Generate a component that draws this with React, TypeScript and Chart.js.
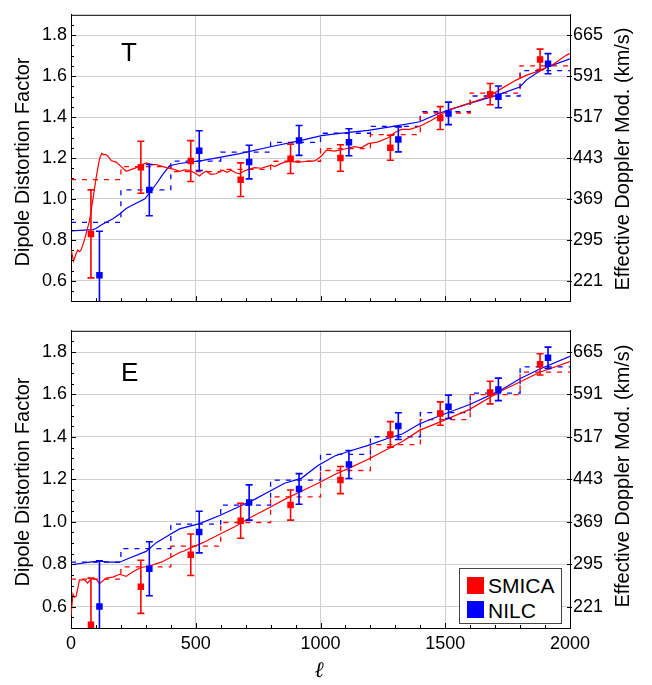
import React, { useEffect, useRef } from 'react';
import { Chart, registerables } from 'chart.js';

Chart.register(...registerables);

const FONT = "'Liberation Sans', Arial, Helvetica, sans-serif";
const RED = '#ff0000';
const BLUE = '#0000ff';

// ---------- axes ----------
const xTicks = [0, 500, 1000, 1500, 2000];
const xTickLabels = ['0', '500', '1000', '1500', '2000'];
const yTicks = [0.6, 0.8, 1.0, 1.2, 1.4, 1.6, 1.8];
const leftTickLabels = ['0.6', '0.8', '1.0', '1.2', '1.4', '1.6', '1.8'];
const rightTickLabels = ['221', '295', '369', '443', '517', '591', '665'];
const binEdges = [0, 200, 400, 600, 800, 1000, 1200, 1400, 1600, 1800, 2000];

// ---------- bin points (ℓ positions) ----------
const smicaEll = [80, 280, 480, 680, 880, 1080, 1280, 1480, 1680, 1880];
const nilcEll = [114, 314, 514, 714, 914, 1114, 1312, 1513, 1713, 1912];

// ---------- T panel ----------
const tSmicaVal = [0.829, 1.155, 1.185, 1.094, 1.196, 1.2, 1.25, 1.395, 1.512, 1.682];
const tSmicaErr = [0.215, 0.127, 0.1, 0.082, 0.072, 0.065, 0.061, 0.056, 0.052, 0.05];
const tNilcVal = [0.627, 1.043, 1.236, 1.18, 1.286, 1.277, 1.291, 1.418, 1.499, 1.661];
const tNilcErr = [0.215, 0.125, 0.097, 0.082, 0.073, 0.066, 0.061, 0.055, 0.053, 0.049];
const tSmicaBinned = [1.094, 1.158, 1.133, 1.144, 1.184, 1.246, 1.314, 1.42, 1.517, 1.65];
const tNilcBinned = [0.885, 1.044, 1.185, 1.229, 1.276, 1.321, 1.355, 1.426, 1.503, 1.627];
const tSmicaCurve: [number, number][] = [
  [0, 0.756], [10, 0.695], [21, 0.734], [27, 0.75], [34, 0.742], [40, 0.749], [54, 0.8], [74, 0.893],
  [88, 0.999], [101, 1.105], [114, 1.195], [124, 1.223], [131, 1.215], [138, 1.218], [147, 1.21],
  [161, 1.188], [181, 1.18], [201, 1.158], [221, 1.135], [241, 1.143], [261, 1.153], [280, 1.165],
  [302, 1.176], [322, 1.168], [342, 1.168], [362, 1.16], [382, 1.153], [409, 1.146], [435, 1.135],
  [455, 1.142], [475, 1.14], [495, 1.128], [515, 1.112], [530, 1.128], [542, 1.135], [560, 1.12],
  [582, 1.123], [596, 1.133], [609, 1.14], [625, 1.13], [642, 1.14], [660, 1.128], [676, 1.123],
  [692, 1.135], [709, 1.143], [736, 1.153], [763, 1.15], [790, 1.16], [803, 1.165], [816, 1.158],
  [836, 1.17], [856, 1.18], [883, 1.183], [910, 1.179], [937, 1.183], [977, 1.186], [1004, 1.21],
  [1024, 1.238], [1057, 1.234], [1097, 1.244], [1137, 1.256], [1164, 1.25], [1191, 1.27], [1231, 1.279],
  [1271, 1.299], [1298, 1.325], [1324, 1.34], [1358, 1.34], [1398, 1.355], [1438, 1.38], [1478, 1.408],
  [1518, 1.438], [1558, 1.453], [1598, 1.468], [1652, 1.491], [1692, 1.514], [1732, 1.544],
  [1786, 1.582], [1826, 1.605], [1879, 1.627], [1933, 1.658], [1986, 1.703], [2000, 1.711],
];
const tNilcCurve: [number, number][] = [
  [0, 0.844], [88, 0.85], [100, 0.855], [128, 0.877], [168, 0.903], [195, 0.926], [221, 0.953],
  [261, 0.979], [295, 0.999], [315, 1.029], [342, 1.074], [368, 1.12], [395, 1.162], [435, 1.173],
  [529, 1.188], [596, 1.203], [676, 1.221], [800, 1.255], [923, 1.286], [1004, 1.309], [1077, 1.32],
  [1191, 1.335], [1304, 1.357], [1398, 1.377], [1478, 1.42], [1598, 1.467], [1705, 1.506],
  [1799, 1.547], [1826, 1.582], [1879, 1.625], [1906, 1.643], [2000, 1.685],
];

// ---------- E panel ----------
const eSmicaVal = [0.515, 0.694, 0.845, 1.005, 1.079, 1.197, 1.412, 1.51, 1.609, 1.742];
const eSmicaErr = [0.22, 0.125, 0.098, 0.082, 0.071, 0.064, 0.06, 0.055, 0.053, 0.05];
const eNilcVal = [0.601, 0.779, 0.952, 1.091, 1.155, 1.27, 1.451, 1.542, 1.624, 1.773];
const eNilcErr = [0.215, 0.127, 0.098, 0.083, 0.072, 0.066, 0.063, 0.055, 0.053, 0.05];
const eSmicaBinned = [0.73, 0.788, 0.886, 0.997, 1.118, 1.242, 1.364, 1.482, 1.599, 1.705];
const eNilcBinned = [0.81, 0.874, 0.989, 1.079, 1.197, 1.318, 1.401, 1.515, 1.606, 1.73];
const eSmicaCurve: [number, number][] = [
  [0, 0.56], [8, 0.66], [14, 0.645], [21, 0.651], [34, 0.727], [54, 0.727], [67, 0.712], [80, 0.732],
  [101, 0.73], [114, 0.709], [141, 0.735], [168, 0.74], [195, 0.753], [221, 0.743], [248, 0.765],
  [281, 0.785], [315, 0.792], [342, 0.803], [362, 0.81], [395, 0.83], [435, 0.856], [455, 0.864],
  [489, 0.882], [529, 0.902], [596, 0.942], [656, 0.977], [723, 1.023], [796, 1.068], [856, 1.106],
  [923, 1.144], [990, 1.182], [1057, 1.223], [1124, 1.258], [1191, 1.295], [1258, 1.336],
  [1330, 1.38], [1398, 1.432], [1478, 1.47], [1598, 1.53], [1719, 1.614], [1799, 1.659],
  [1879, 1.705], [2000, 1.755],
];
const eNilcCurve: [number, number][] = [
  [0, 0.798], [74, 0.81], [114, 0.815], [150, 0.81], [195, 0.81], [235, 0.83], [301, 0.861],
  [342, 0.902], [395, 0.939], [435, 0.967], [515, 0.992], [596, 1.03], [666, 1.068], [736, 1.106],
  [796, 1.144], [856, 1.182], [923, 1.205], [990, 1.265], [1057, 1.31], [1124, 1.336], [1191, 1.36],
  [1271, 1.394], [1330, 1.415], [1398, 1.462], [1478, 1.5], [1598, 1.553], [1719, 1.618],
  [1799, 1.674], [1879, 1.72], [2000, 1.78],
];

// ---------- helpers ----------
const stepPoints = (vals: number[]) =>
  binEdges.map((e, i) => ({ x: e, y: vals[Math.min(i, vals.length - 1)] }));
const curvePoints = (c: [number, number][]) => c.map(([x, y]) => ({ x, y }));
const markerPoints = (ells: number[], vals: number[], errs: number[]) =>
  ells.map((x, i) => ({ x, y: vals[i], err: errs[i] }));

const errorBarPlugin = {
  id: 'errorBars',
  afterDatasetsDraw(chart: any) {
    const { ctx, chartArea: a } = chart;
    const xs = chart.scales.x;
    const ys = chart.scales.y;
    ctx.save();
    ctx.beginPath();
    ctx.rect(a.left, a.top, a.right - a.left, a.bottom - a.top);
    ctx.clip();
    chart.data.datasets.forEach((ds: any) => {
      if (!ds.errorBars) return;
      ctx.strokeStyle = ds.borderColor;
      ctx.lineWidth = 1.6;
      ds.data.forEach((p: any) => {
        const px = xs.getPixelForValue(p.x);
        const y1 = ys.getPixelForValue(p.y + p.err);
        const y2 = ys.getPixelForValue(p.y - p.err);
        ctx.beginPath();
        ctx.moveTo(px, y1);
        ctx.lineTo(px, y2);
        ctx.moveTo(px - 3.5, y1);
        ctx.lineTo(px + 3.5, y1);
        ctx.moveTo(px - 3.5, y2);
        ctx.lineTo(px + 3.5, y2);
        ctx.stroke();
      });
    });
    ctx.restore();
  },
};

const frameTicksPlugin = {
  id: 'frameTicks',
  afterDraw(chart: any) {
    const { ctx, chartArea: a } = chart;
    const xs = chart.scales.x;
    const ys = chart.scales.y;
    ctx.save();
    ctx.strokeStyle = '#000';
    ctx.lineWidth = 1;
    ctx.beginPath();
    ctx.moveTo(a.left, a.top + 0.5);
    ctx.lineTo(a.right, a.top + 0.5);
    for (let v = 0; v <= 2000; v += 100) {
      const px = Math.round(xs.getPixelForValue(v)) + 0.5;
      const len = v % 500 === 0 ? 5 : 3;
      ctx.moveTo(px, a.bottom);
      ctx.lineTo(px, a.bottom - len);
    }
    for (let k = 11; k <= 37; k++) {
      const v = k * 0.05;
      const py = Math.round(ys.getPixelForValue(v)) + 0.5;
      const major = k % 4 === 0;
      ctx.moveTo(a.left, py);
      ctx.lineTo(a.left + (major ? 5 : 3), py);
      if (major) {
        ctx.moveTo(a.right - 3, py);
        ctx.lineTo(a.right + 2, py);
      }
    }
    ctx.stroke();
    ctx.restore();
  },
};

interface PanelSpec {
  smicaVal: number[];
  smicaErr: number[];
  nilcVal: number[];
  nilcErr: number[];
  smicaBinned: number[];
  nilcBinned: number[];
  smicaCurve: [number, number][];
  nilcCurve: [number, number][];
}

function Panel(props: {
  spec: PanelSpec;
  top: number;
  height: number;
  padTop: number;
  xHeight: number;
  showX: boolean;
}) {
  const ref = useRef<HTMLCanvasElement | null>(null);
  const { spec, top, height, padTop, xHeight, showX } = props;
  useEffect(() => {
    if (!ref.current) return;
    const tickFont = { family: FONT, size: 18 };
    const gridColor = '#cfcfcf';
    const dash = [5, 6];
    const chart = new Chart(ref.current, {
      type: 'line',
      data: {
        datasets: [
          {
            label: 'SMICA',
            data: markerPoints(smicaEll, spec.smicaVal, spec.smicaErr),
            showLine: false,
            pointStyle: 'rect',
            pointRadius: 4.6,
            pointBackgroundColor: RED,
            pointBorderWidth: 0,
            borderColor: RED,
            backgroundColor: RED,
            clip: 0,
            errorBars: true,
          } as any,
          {
            label: 'NILC',
            data: markerPoints(nilcEll, spec.nilcVal, spec.nilcErr),
            showLine: false,
            pointStyle: 'rect',
            pointRadius: 4.6,
            pointBackgroundColor: BLUE,
            pointBorderWidth: 0,
            borderColor: BLUE,
            backgroundColor: BLUE,
            clip: 0,
            errorBars: true,
          } as any,
          {
            label: 'SMICA running',
            data: curvePoints(spec.smicaCurve),
            borderColor: RED,
            borderWidth: 1.2,
            pointRadius: 0,
            tension: 0,
            fill: false,
          },
          {
            label: 'NILC running',
            data: curvePoints(spec.nilcCurve),
            borderColor: BLUE,
            borderWidth: 1.2,
            pointRadius: 0,
            tension: 0,
            fill: false,
          },
          {
            label: 'SMICA binned',
            data: stepPoints(spec.smicaBinned),
            borderColor: RED,
            borderWidth: 1.3,
            borderDash: dash,
            stepped: true,
            pointRadius: 0,
            fill: false,
          },
          {
            label: 'NILC binned',
            data: stepPoints(spec.nilcBinned),
            borderColor: BLUE,
            borderWidth: 1.3,
            borderDash: dash,
            stepped: true,
            pointRadius: 0,
            fill: false,
          },
        ],
      },
      options: {
        responsive: false,
        animation: false,
        events: [],
        layout: { padding: { top: padTop, left: 0, right: 0, bottom: 0 } },
        plugins: { legend: { display: false }, tooltip: { enabled: false } },
        scales: {
          x: {
            type: 'linear',
            min: 0,
            max: 2000,
            afterBuildTicks: (s: any) => {
              s.ticks = xTicks.map((v) => ({ value: v }));
            },
            afterFit: (s: any) => {
              s.height = xHeight;
            },
            ticks: {
              display: showX,
              font: tickFont,
              color: '#000',
              padding: 5,
              maxRotation: 0,
              autoSkip: false,
              callback: (_v: any, i: number) => xTickLabels[i],
            },
            grid: {
              color: (c: any) =>
                c.tick && (c.tick.value === 0 || c.tick.value === 2000) ? 'rgba(0,0,0,0)' : gridColor,
              drawTicks: false,
            },
            border: { display: true, color: '#000', width: 1 },
          },
          y: {
            position: 'left',
            min: 0.5,
            max: 1.9,
            afterBuildTicks: (s: any) => {
              s.ticks = yTicks.map((v) => ({ value: v }));
            },
            afterFit: (s: any) => {
              s.width = 71;
            },
            ticks: {
              font: tickFont,
              color: '#000',
              padding: 4,
              autoSkip: false,
              callback: (_v: any, i: number) => leftTickLabels[i],
            },
            grid: { color: gridColor, drawTicks: false },
            border: { display: true, color: '#000', width: 1 },
          },
          y2: {
            position: 'right',
            min: 0.5,
            max: 1.9,
            afterBuildTicks: (s: any) => {
              s.ticks = yTicks.map((v) => ({ value: v }));
            },
            afterFit: (s: any) => {
              s.width = 82;
            },
            ticks: {
              font: tickFont,
              color: '#000',
              padding: 3,
              autoSkip: false,
              callback: (_v: any, i: number) => rightTickLabels[i],
            },
            grid: { drawOnChartArea: false, drawTicks: false },
            border: { display: true, color: '#000', width: 1 },
          },
        },
      } as any,
      plugins: [errorBarPlugin, frameTicksPlugin],
    });
    return () => chart.destroy();
  }, [spec, padTop, xHeight, showX]);
  return (
    <canvas
      ref={ref}
      width={652}
      height={height}
      style={{ position: 'absolute', left: 0, top, display: 'block' }}
    />
  );
}

const tSpec: PanelSpec = {
  smicaVal: tSmicaVal,
  smicaErr: tSmicaErr,
  nilcVal: tNilcVal,
  nilcErr: tNilcErr,
  smicaBinned: tSmicaBinned,
  nilcBinned: tNilcBinned,
  smicaCurve: tSmicaCurve,
  nilcCurve: tNilcCurve,
};
const eSpec: PanelSpec = {
  smicaVal: eSmicaVal,
  smicaErr: eSmicaErr,
  nilcVal: eNilcVal,
  nilcErr: eNilcErr,
  smicaBinned: eSmicaBinned,
  nilcBinned: eNilcBinned,
  smicaCurve: eSmicaCurve,
  nilcCurve: eNilcCurve,
};

const textBase: React.CSSProperties = {
  position: 'absolute',
  fontFamily: FONT,
  color: '#000',
  whiteSpace: 'nowrap',
  lineHeight: 1,
};

function RotLabel({ text, cx, cy }: { text: string; cx: number; cy: number }) {
  return (
    <div
      style={{
        ...textBase,
        left: cx,
        top: cy,
        fontSize: 20,
        transform: 'translate(-50%, -50%) rotate(-90deg)',
      }}
    >
      {text}
    </div>
  );
}

export default function App() {
  return (
    <div
      style={{
        position: 'absolute',
        left: 0,
        top: 0,
        width: 652,
        height: 685,
        background: '#fff',
        overflow: 'hidden',
      }}
    >
      <Panel spec={tSpec} top={0} height={316} padTop={2} xHeight={7} showX={false} />
      <Panel spec={eSpec} top={316} height={369} padTop={6} xHeight={57} showX={true} />

      <div style={{ ...textBase, left: 121, top: 39, fontSize: 26 }}>T</div>
      <div style={{ ...textBase, left: 121, top: 359, fontSize: 26 }}>E</div>

      <RotLabel text="Dipole Distortion Factor" cx={22} cy={162} />
      <RotLabel text="Dipole Distortion Factor" cx={22} cy={482} />
      <RotLabel text="Effective Doppler Mod. (km/s)" cx={622} cy={159} />
      <RotLabel text="Effective Doppler Mod. (km/s)" cx={622} cy={476} />

      <div
        style={{
          ...textBase,
          left: 319,
          top: 670,
          fontSize: 22,
          fontFamily: "'DejaVu Serif', serif",
          fontStyle: 'italic',
          transform: 'translate(-50%, -50%)',
        }}
      >
        ℓ
      </div>

      <div
        style={{
          position: 'absolute',
          left: 459,
          top: 568,
          width: 103,
          height: 56,
          border: '1px solid #444',
          background: '#fff',
          boxSizing: 'border-box',
        }}
      >
        <div style={{ position: 'absolute', left: 7, top: 8, width: 17, height: 17, background: RED }} />
        <div style={{ ...textBase, left: 28, top: 6, fontSize: 21 }}>SMICA</div>
        <div style={{ position: 'absolute', left: 7, top: 32, width: 17, height: 17, background: BLUE }} />
        <div style={{ ...textBase, left: 28, top: 31, fontSize: 21 }}>NILC</div>
      </div>
    </div>
  );
}
